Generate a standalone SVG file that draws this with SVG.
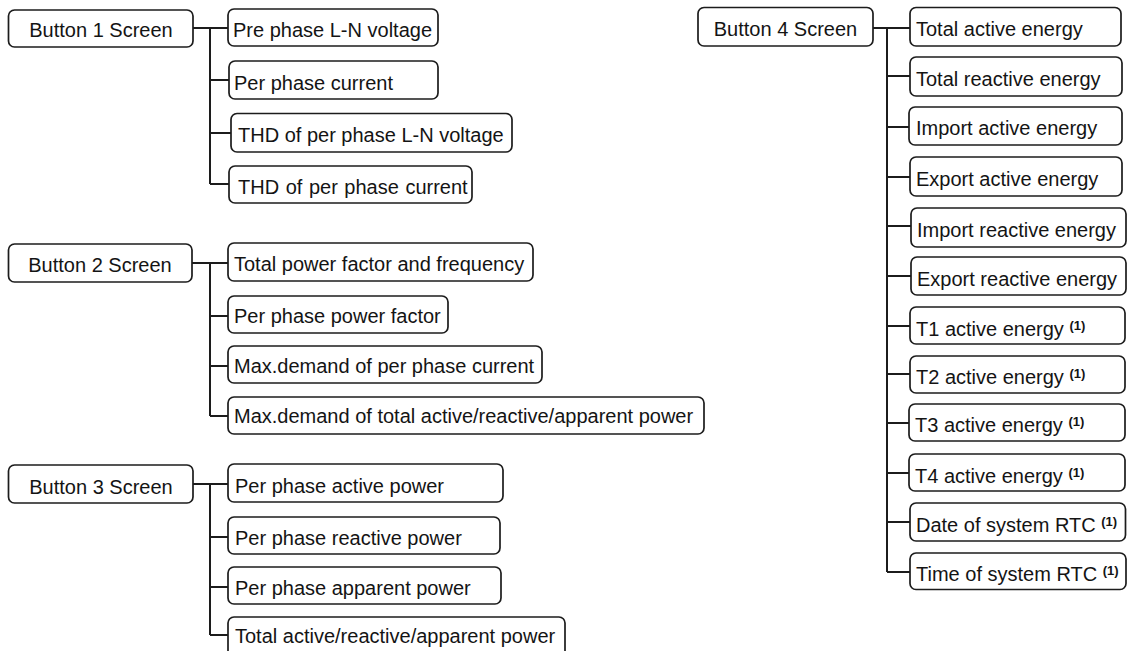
<svg xmlns="http://www.w3.org/2000/svg" width="1129" height="651" viewBox="0 0 1129 651">
  <style>
    .box { fill: #ffffff; stroke: #1c1c1c; stroke-width: 1.7; }
    .lbl { font-family: "Liberation Sans", Arial, sans-serif; font-size: 20px; fill: #141414; }
    .head { text-anchor: middle; }
    .sup { font-size: 13px; font-weight: bold; }
    .wire { fill: none; stroke: #1c1c1c; stroke-width: 2; }
  </style>
  <rect width="1129" height="651" fill="#ffffff"/>

  <!-- connectors -->
  <g id="connectors" class="wire">
    <!-- button 1 -->
    <path d="M193 28H228M210 28V184M210 80H229M210 133H231M210 184H229"/>
    <!-- button 2 -->
    <path d="M192 263H228M210 263V416M210 316H228M210 366H228M210 416H228"/>
    <!-- button 3 -->
    <path d="M193 484H228M210 484V635M210 537H228M210 587H228M210 635H228"/>
    <!-- button 4 -->
    <path d="M873 28H910M887 28V572M887 76H910M887 127H909M887 177H910M887 226H911M887 276H911M887 326H910M887 374H910M887 423H909M887 473H909M887 522H910M887 572H910"/>
  </g>

  <!-- button 1 -->
  <g id="button1">
    <rect class="box" x="8.5" y="10" width="184.5" height="37" rx="6"/>
    <text class="lbl head" x="101" y="37">Button 1 Screen</text>
  </g>
  <g id="b1-voltage">
    <rect class="box" x="228" y="9" width="210" height="37" rx="6"/>
    <text class="lbl" x="233" y="37">Pre phase L-N voltage</text>
  </g>
  <g id="b1-current">
    <rect class="box" x="229" y="61" width="209" height="38" rx="6"/>
    <text class="lbl" x="234" y="90">Per phase current</text>
  </g>
  <g id="b1-thd-voltage">
    <rect class="box" x="231" y="113.5" width="281" height="38.5" rx="6"/>
    <text class="lbl" x="238" y="142">THD of per phase L-N voltage</text>
  </g>
  <g id="b1-thd-current">
    <rect class="box" x="229" y="166" width="243" height="37" rx="6"/>
    <text class="lbl" x="238" y="194" word-spacing="1">THD of per phase current</text>
  </g>

  <!-- button 2 -->
  <g id="button2">
    <rect class="box" x="8.5" y="244" width="183.5" height="38" rx="6"/>
    <text class="lbl head" x="100" y="272">Button 2 Screen</text>
  </g>
  <g id="b2-total-pf">
    <rect class="box" x="228" y="243" width="305" height="38" rx="6"/>
    <text class="lbl" x="234" y="271">Total power factor and frequency</text>
  </g>
  <g id="b2-phase-pf">
    <rect class="box" x="228" y="296" width="220" height="37" rx="6"/>
    <text class="lbl" x="234" y="323">Per phase power factor</text>
  </g>
  <g id="b2-md-current">
    <rect class="box" x="228" y="346" width="314" height="37" rx="6"/>
    <text class="lbl" x="234" y="373">Max.demand of per phase current</text>
  </g>
  <g id="b2-md-power">
    <rect class="box" x="228" y="397" width="476" height="37" rx="6"/>
    <text class="lbl" x="234" y="423">Max.demand of total active/reactive/apparent power</text>
  </g>

  <!-- button 3 -->
  <g id="button3">
    <rect class="box" x="8.5" y="465" width="184.5" height="38" rx="6"/>
    <text class="lbl head" x="101" y="494">Button 3 Screen</text>
  </g>
  <g id="b3-active">
    <rect class="box" x="228" y="464" width="275" height="38" rx="6"/>
    <text class="lbl" x="235" y="493">Per phase active power</text>
  </g>
  <g id="b3-reactive">
    <rect class="box" x="228" y="517" width="272" height="37" rx="6"/>
    <text class="lbl" x="235" y="545">Per phase reactive power</text>
  </g>
  <g id="b3-apparent">
    <rect class="box" x="228" y="567" width="273" height="37" rx="6"/>
    <text class="lbl" x="235" y="595">Per phase apparent power</text>
  </g>
  <g id="b3-total">
    <rect class="box" x="228" y="617" width="337" height="40" rx="6"/>
    <text class="lbl" x="235" y="643">Total active/reactive/apparent power</text>
  </g>

  <!-- button 4 -->
  <g id="button4">
    <rect class="box" x="698" y="7.5" width="175" height="38.5" rx="6"/>
    <text class="lbl head" x="785.5" y="36">Button 4 Screen</text>
  </g>
  <g id="b4-total-active">
    <rect class="box" x="910" y="7.5" width="211" height="38.5" rx="6"/>
    <text class="lbl" x="916" y="36">Total active energy</text>
  </g>
  <g id="b4-total-reactive">
    <rect class="box" x="910" y="57" width="212" height="39" rx="6"/>
    <text class="lbl" x="916" y="86">Total reactive energy</text>
  </g>
  <g id="b4-import-active">
    <rect class="box" x="909" y="107" width="213" height="38" rx="6"/>
    <text class="lbl" x="916" y="135">Import active energy</text>
  </g>
  <g id="b4-export-active">
    <rect class="box" x="910" y="157" width="212" height="39" rx="6"/>
    <text class="lbl" x="916" y="186">Export active energy</text>
  </g>
  <g id="b4-import-reactive">
    <rect class="box" x="911" y="208" width="215" height="39" rx="6"/>
    <text class="lbl" x="917" y="237">Import reactive energy</text>
  </g>
  <g id="b4-export-reactive">
    <rect class="box" x="911" y="257" width="215" height="38" rx="6"/>
    <text class="lbl" x="917" y="286">Export reactive energy</text>
  </g>
  <g id="b4-t1">
    <rect class="box" x="910" y="307" width="215" height="37" rx="6"/>
    <text class="lbl" x="916" y="336">T1 active energy <tspan class="sup" dy="-6">(1)</tspan></text>
  </g>
  <g id="b4-t2">
    <rect class="box" x="910" y="356" width="215" height="37" rx="6"/>
    <text class="lbl" x="916" y="384">T2 active energy <tspan class="sup" dy="-6">(1)</tspan></text>
  </g>
  <g id="b4-t3">
    <rect class="box" x="909" y="404" width="216" height="37" rx="6"/>
    <text class="lbl" x="915" y="432">T3 active energy <tspan class="sup" dy="-6">(1)</tspan></text>
  </g>
  <g id="b4-t4">
    <rect class="box" x="909" y="454" width="216" height="37" rx="6"/>
    <text class="lbl" x="915" y="483">T4 active energy <tspan class="sup" dy="-6">(1)</tspan></text>
  </g>
  <g id="b4-date">
    <rect class="box" x="910" y="503" width="215.5" height="38" rx="6"/>
    <text class="lbl" x="916" y="532">Date of system RTC <tspan class="sup" dy="-6">(1)</tspan></text>
  </g>
  <g id="b4-time">
    <rect class="box" x="910" y="553" width="216" height="36.5" rx="6"/>
    <text class="lbl" x="916" y="581">Time of system RTC <tspan class="sup" dy="-6">(1)</tspan></text>
  </g>
</svg>
